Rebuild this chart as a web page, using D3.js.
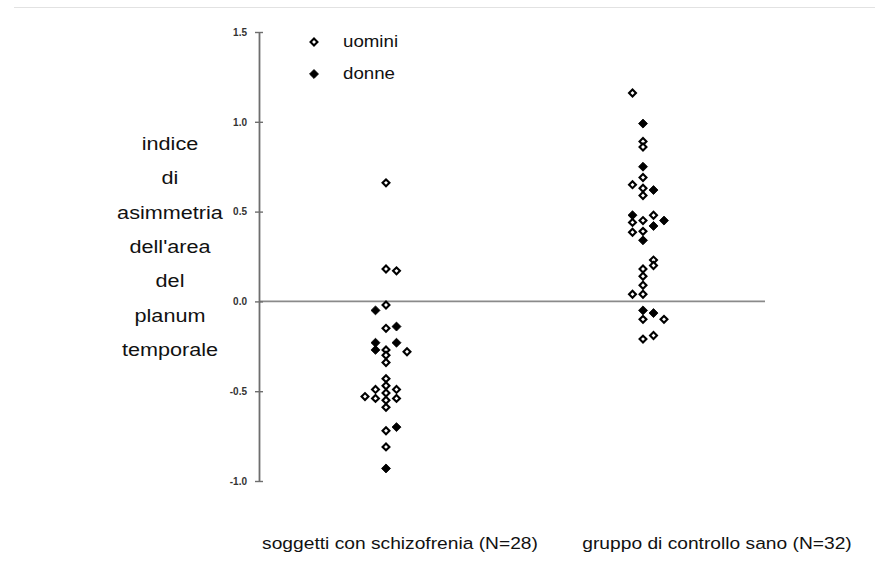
<!DOCTYPE html>
<html>
<head>
<meta charset="utf-8">
<script src="https://cdn.jsdelivr.net/npm/d3@7"></script>
<style>
  html, body { margin: 0; padding: 0; background: #fff; }
  svg { display: block; font-family: "Liberation Sans", Arial, sans-serif; }
</style>
</head>
<body>
<svg id="chart" width="875" height="569"></svg>
<script>
// ---- data ----
const groups = ["soggetti con schizofrenia (N=28)", "gruppo di controllo sano (N=32)"];
const yTicks = [1.5, 1.0, 0.5, 0.0, -0.5, -1.0];
const yTickLabels = ["1.5", "1.0", "0.5", "0.0", "-0.5", "-1.0"];
const yTitleLines = ["indice", "di", "asimmetria", "dell'area", "del", "planum", "temporale"];
const legendLabels = ["uomini", "donne"];
const sexes = ["m", "f"];

// schizophrenia group: value, column slot, sex
const schizoValues = [0.66, 0.18, 0.17, -0.02, -0.05, -0.15, -0.14, -0.23, -0.27, -0.23, -0.27, -0.30, -0.34, -0.28,
  -0.43, -0.47, -0.51, -0.55, -0.59, -0.49, -0.54, -0.49, -0.54, -0.53, -0.72, -0.70, -0.81, -0.93];
const schizoSlots = [0, 0, 1, 0, -1, 0, 1, -1, -1, 1, 0, 0, 0, 2,
  0, 0, 0, 0, 0, -1, -1, 1, 1, -2, 0, 1, 0, 0];
const schizoSex = ["m","m","m","m","f","m","f","f","f","f","m","m","m","m",
  "m","m","m","m","m","m","m","m","m","m","m","f","m","f"];

// healthy control group
const controlValues = [1.16, 0.99, 0.89, 0.86, 0.75, 0.69, 0.65, 0.63, 0.62, 0.59,
  0.48, 0.44, 0.45, 0.48, 0.42, 0.45, 0.385, 0.39, 0.34,
  0.23, 0.20, 0.18, 0.14, 0.09, 0.04, 0.04, -0.05, -0.10, -0.065, -0.10, -0.21, -0.19];
const controlSlots = [-1, 0, 0, 0, 0, 0, -1, 0, 1, 0,
  -1, -1, 0, 1, 1, 2, -1, 0, 0,
  1, 1, 0, 0, 0, -1, 0, 0, 0, 1, 2, 0, 1];
const controlSex = ["m","f","m","m","f","m","m","m","f","m",
  "f","m","m","m","f","f","m","m","f",
  "m","m","m","m","m","m","m","f","m","f","m","m","m"];

// ---- build ----
const points = [];
schizoValues.forEach((v, i) => points.push({ g: groups[0], v, slot: schizoSlots[i], sex: schizoSex[i] }));
controlValues.forEach((v, i) => points.push({ g: groups[1], v, slot: controlSlots[i], sex: controlSex[i] }));

const svg = d3.select("#chart");

const y = d3.scaleLinear().domain([-1.0, 1.5]).range([481, 32]);
const xGroup = d3.scalePoint().domain(groups).range([386, 643]);
const xSlot = d3.scaleLinear().domain([-1, 1]).range([-10.5, 10.5]);
const xLabel = d3.scalePoint().domain(groups).range([400, 717]);

// faint top rule
svg.append("line").attr("x1", 14).attr("x2", 875).attr("y1", 7.5).attr("y2", 7.5)
  .attr("stroke", "#e2e2e2").attr("stroke-width", 1);

// zero reference line
svg.append("line")
  .attr("x1", 259).attr("x2", 765)
  .attr("y1", y(0)).attr("y2", y(0))
  .attr("stroke", "#8a8a8a").attr("stroke-width", 1.6);

// y axis
const axis = svg.append("g").attr("transform", "translate(259,0)")
  .call(d3.axisLeft(y).tickValues(yTicks).tickFormat((d, i) => yTickLabels[i]).tickSize(4).tickSizeOuter(0).tickPadding(8));
axis.select(".domain").attr("stroke", "#6e6e6e").attr("stroke-width", 1.8);
axis.selectAll(".tick line").attr("x1", -4).attr("x2", 4).attr("stroke", "#6e6e6e").attr("stroke-width", 1.4);
axis.selectAll(".tick text").attr("font-size", 10).attr("font-weight", "bold").attr("fill", "#333")
  .attr("font-family", "Liberation Sans, Arial, sans-serif");

// helper: horizontally stretched text (reference glyphs are wider than normal)
function stretchedText(parent, x, yPos, str, size, sx, anchor) {
  return parent.append("text")
    .attr("transform", `translate(${x},${yPos}) scale(${sx},1)`)
    .attr("font-size", size).attr("fill", "#111")
    .attr("text-anchor", anchor)
    .text(str);
}

// y title
const titleG = svg.append("g");
const titleYs = d3.scalePoint().domain(d3.range(yTitleLines.length)).range([150, 356]);
yTitleLines.forEach((t, i) => stretchedText(titleG, 170, titleYs(i), t, 18.5, 1.17, "middle"));

// markers
const diamond = d3.symbol().type(d3.symbolSquare);
svg.append("g").selectAll("path").data(points).join("path")
  .attr("d", d => diamond.size(d.sex === "f" ? 40 : 24)())
  .attr("transform", d => `translate(${xGroup(d.g) + xSlot(d.slot)},${y(d.v)}) rotate(45)`)
  .attr("fill", d => d.sex === "f" ? "#000" : "#fff")
  .attr("stroke", "#000")
  .attr("stroke-width", d => d.sex === "f" ? 0.8 : 2.1);

// legend
const legend = svg.append("g");
const legY = d3.scalePoint().domain(sexes).range([42, 74]);
legend.selectAll("path").data(sexes).join("path")
  .attr("d", d => diamond.size(d === "f" ? 40 : 24)())
  .attr("transform", d => `translate(314,${legY(d)}) rotate(45)`)
  .attr("fill", d => d === "f" ? "#000" : "#fff")
  .attr("stroke", "#000")
  .attr("stroke-width", d => d === "f" ? 0.8 : 2.1);
sexes.forEach((s, i) => stretchedText(legend, 343, legY(s) + 5, legendLabels[i], 17, 1.1, "start"));

// group labels
const labG = svg.append("g");
groups.forEach(g => stretchedText(labG, xLabel(g), 549, g, 17, 1.13, "middle"));
</script>
</body>
</html>
